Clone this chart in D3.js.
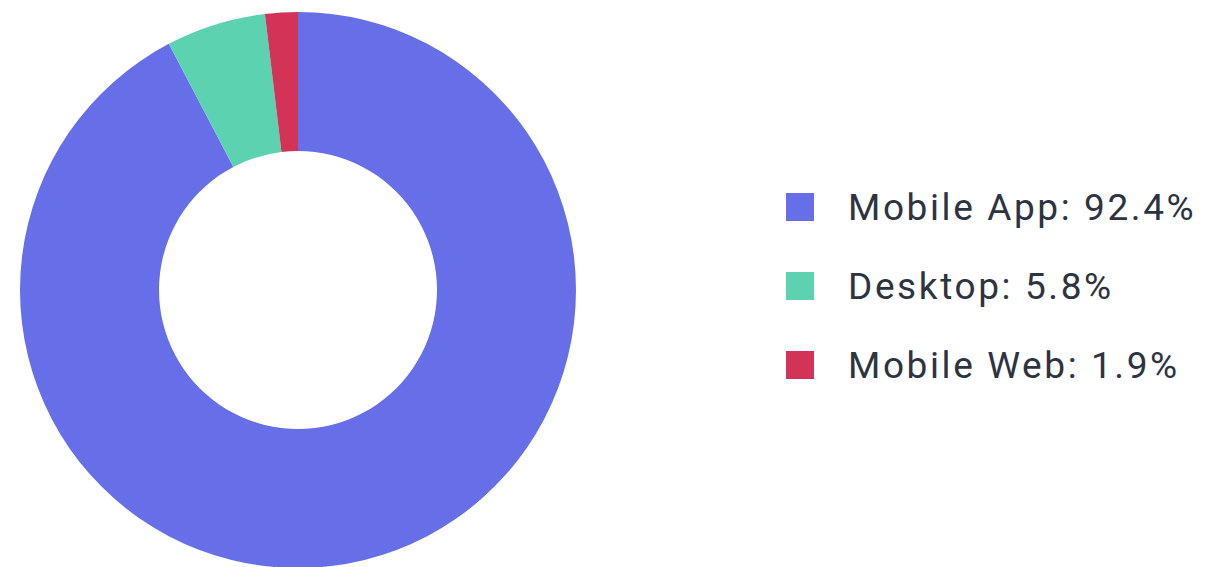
<!DOCTYPE html>
<html>
<head>
<meta charset="utf-8">
<script src="https://cdn.jsdelivr.net/npm/d3@7"></script>
<style>
  html, body { margin: 0; padding: 0; background: #fff; }
  svg { display: block; }
</style>
</head>
<body>
<script>
const categories = ["Mobile App", "Desktop", "Mobile Web"]
const shares = [92.4, 5.8, 1.9]
const colors = ["#666fe8", "#5cd2b0", "#d43358"]

const width = 1206
const height = 567
const cx = 298
const cy = 290
const outerR = 278
const innerR = 139

const svg = d3.select("body").append("svg")
  .attr("width", width)
  .attr("height", height)

const data = categories.map((c, i) => ({name: c, value: shares[i], color: colors[i]}))

const pie = d3.pie()
  .value(d => d.value)
  .sort(null)

const arc = d3.arc()
  .innerRadius(innerR)
  .outerRadius(outerR)

svg.append("g")
  .attr("transform", `translate(${cx},${cy})`)
  .selectAll("path")
  .data(pie(data))
  .join("path")
  .attr("d", arc)
  .attr("fill", d => d.data.color)

// legend
const legend = svg.append("g")
  .attr("transform", "translate(786,207)")

const row = legend.selectAll("g")
  .data(data)
  .join("g")
  .attr("transform", (d, i) => `translate(0,${i * 79})`)

row.append("rect")
  .attr("x", 0)
  .attr("y", -14)
  .attr("width", 28)
  .attr("height", 28)
  .attr("fill", d => d.color)

row.append("text")
  .attr("x", 62)
  .attr("y", 0)
  .attr("dy", "0.35em")
  .style("font-family", "Roboto, sans-serif")
  .style("font-size", "37px")
  .style("letter-spacing", "2.6px")
  .style("fill", "#2e3341")
  .text(d => `${d.name}: ${d.value}%`)
</script>
</body>
</html>
